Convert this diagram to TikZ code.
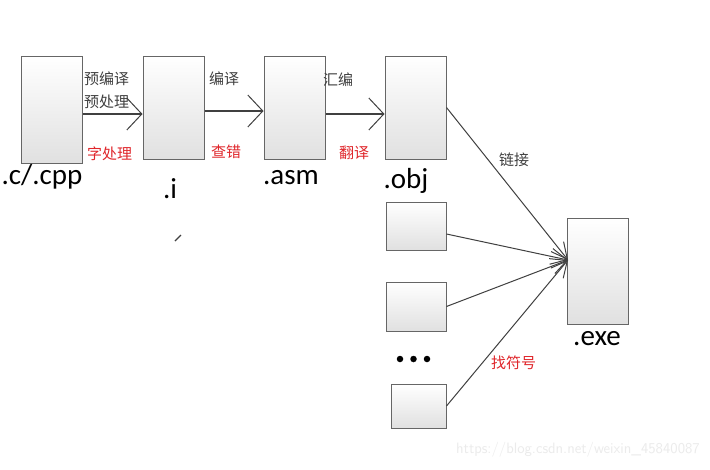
\documentclass[tikz,border=0pt]{standalone}
\usepackage{fontspec}
\setmainfont{Carlito}
\newfontfamily\cjk{Noto Sans CJK SC}
\usetikzlibrary{arrows.meta,positioning}
\definecolor{cLine}{HTML}{404040}
\definecolor{cRed} {HTML}{E0262B}
\tikzset{
  filebox/.style ={draw=cLine!80,line width=1pt,top color=white,bottom color=black!12,
                   inner sep=0pt},
  ext/.style     ={font=\fontsize{29}{29}\selectfont,text=black,inner sep=0pt},
  note/.style    ={font=\cjk\fontsize{15}{15}\selectfont,text=cLine,inner sep=0pt},
  noteR/.style   ={note,text=cRed},
  pass/.style    ={-{Straight Barb[length=15pt,width=32pt,line width=1pt]},draw=cLine,line width=1.1pt},
  link/.style    ={-{Straight Barb[length=16pt,width=16pt,line width=1pt]},draw=cLine,line width=1pt},
  dot/.style     ={circle,fill=black,inner sep=0pt,minimum size=6.5pt},
}
\begin{document}
\begin{tikzpicture}[x=1pt,y=-1pt]
\useasboundingbox[fill=white] (0,0) rectangle (710,469);

% the chain of files
\node[filebox,minimum width=61pt,minimum height=107pt] (src) at (51.5,109.5) {};
\node[filebox,minimum width=61pt,minimum height=103pt] (pre) at (173.5,107.5) {};
\node[filebox,minimum width=61pt,minimum height=103pt] (asm) at (294.5,107.5) {};
\node[filebox,minimum width=61pt,minimum height=103pt] (obj) at (415.5,107.5) {};
\node[filebox,minimum width=60pt,minimum height=48pt]  (objb) at (416,226) {};
\node[filebox,minimum width=60pt,minimum height=49pt]  (objc) at (416,306.5) {};
\node[filebox,minimum width=55pt,minimum height=44pt]  (objd) at (418.5,406) {};
\node[filebox,minimum width=61pt,minimum height=106pt] (exe) at (597.5,271) {};

% file names
\node[ext] (srcName) at (42,177) {.c/.cpp};
\node[ext] (preName) at (170,189) {.i};
\node[ext] (asmName) at (291,178) {.asm};
\node[ext] (objName) at (406,181) {.obj};
\node[ext] (exeName) at (597,339) {.exe};
\node[dot] (dotA) at (400,359) {};
\node[dot] (dotB) at (413.5,359) {};
\node[dot] (dotC) at (427,359) {};

% steps along the top
\draw[pass] (src.east |- 0,114) -- (pre.west |- 0,114);
\draw[pass] (pre.east |- 0,111) -- (asm.west |- 0,111);
\draw[pass] (asm.east |- 0,114) -- (obj.west |- 0,114);
\node[note,anchor=west]  (tPre)  at (84,79)  {预编译};
\node[note,anchor=west]  (tPre2) at (84,102) {预处理};
\node[noteR,anchor=west] (tWord) at (87,154) {字处理};
\node[note,anchor=west]  (tComp) at (209,79) {编译};
\node[noteR,anchor=west] (tChk)  at (211,152) {查错};
\node[note,anchor=west]  (tAsm)  at (323,80) {汇编};
\node[noteR,anchor=west] (tTr)   at (339,153) {翻译};

% linking into the executable
\coordinate (hub) at (568,260);
\draw[link] (obj.east)  -- (hub);
\draw[link] ([yshift=-8pt]objb.east) -- (hub);
\draw[link] (objc.east) -- (hub);
\draw[link] (objd.east) -- (hub);
\node[note,anchor=west]  (tLink) at (499,160) {链接};
\node[noteR,anchor=west] (tSym)  at (491,363) {找符号};

% stray mark and watermark
\coordinate (markA) at (175,241);
\coordinate (markB) at (181,235);
\draw[cLine,line width=1.2pt] (markA) -- (markB);
\node[font=\fontsize{15}{15}\selectfont\sffamily,text=black!8,anchor=east,inner sep=0pt] (wm) at (700,450)
  {https://blog.csdn.net/weixin\_45840087};
\end{tikzpicture}
\end{document}
